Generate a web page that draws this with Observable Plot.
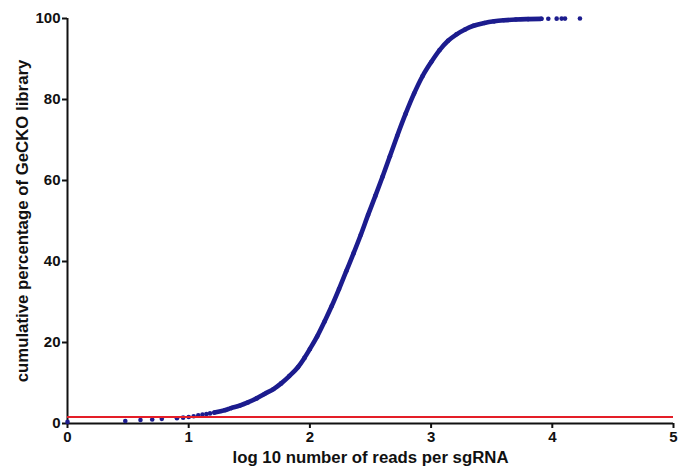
<!DOCTYPE html>
<html>
<head>
<meta charset="utf-8">
<script src="https://cdn.jsdelivr.net/npm/d3@7"></script>
<script src="https://cdn.jsdelivr.net/npm/@observablehq/plot@0.6"></script>
<style>
  html, body { margin: 0; padding: 0; background: #fff; }
  #chart svg { display: block; }
</style>
</head>
<body>
<div id="chart"></div>
<script>
// log10 of reads per sgRNA (x) and cumulative percentage of library (y)
const logReads = [0, 0.477, 0.602, 0.699, 0.778, 0.903, 0.954, 1.0, 1.041, 1.079, 1.114, 1.146, 1.176,
  1.212, 1.30, 1.35, 1.42, 1.488, 1.56, 1.625, 1.70, 1.763, 1.83, 1.901, 1.955, 2.00, 2.06, 2.121, 2.18,
  2.24, 2.30, 2.36, 2.42, 2.48, 2.54, 2.60, 2.66, 2.72, 2.79, 2.86, 2.93, 3.00, 3.07, 3.14, 3.21, 3.28,
  3.35, 3.44, 3.52, 3.60, 3.70, 3.80, 3.91, 3.967, 4.036, 4.077, 4.105, 4.228];
const cumPercent = [0.4, 0.6, 0.85, 1.0, 1.15, 1.3, 1.45, 1.6, 1.8, 2.0, 2.2, 2.35, 2.5,
  2.7, 3.3, 3.8, 4.4, 5.2, 6.2, 7.3, 8.5, 9.9, 11.7, 13.9, 16.2, 18.4, 21.5, 25.2, 29.0,
  33.2, 37.6, 42.0, 46.6, 51.5, 56.2, 61.0, 66.0, 71.0, 76.5, 81.5, 85.8, 89.2, 92.2, 94.5, 96.1, 97.3,
  98.2, 98.9, 99.3, 99.55, 99.75, 99.85, 99.92, 99.95, 99.96, 99.97, 99.98, 100];
// the dense part of the curve (drawn as a thick stroke) lies between these x values
const denseRange = [1.212, 3.91];
const thresholdValue = [1.6];
const xTicks = [0, 1, 2, 3, 4, 5];
const yTicks = [0, 20, 40, 60, 80, 100];
const xTitle = "log 10 number of reads per sgRNA";
const yTitle = "cumulative percentage of GeCKO library";

const data = logReads.map((x, i) => ({x, y: cumPercent[i]}));
const dense = data.filter(d => d.x >= denseRange[0] && d.x <= denseRange[1]);
const blue = "#1c1c8e";

const chart = Plot.plot({
  width: 679,
  height: 472,
  marginLeft: 67,
  marginRight: 6,
  marginTop: 18,
  marginBottom: 49,
  style: {fontFamily: "Liberation Sans, Arial, sans-serif", fontWeight: "bold", fontSize: "15px", color: "#111", background: "#fff"},
  x: {domain: [0, 5]},
  y: {domain: [0, 100]},
  marks: [
    Plot.axisX({ticks: xTicks, tickSize: 5, tickPadding: 3, tickFormat: d3.format("d"), label: null, stroke: "#111", strokeWidth: 2, fontSize: 15}),
    Plot.axisY({ticks: yTicks, tickSize: 5, tickPadding: 2, tickFormat: d3.format("d"), label: null, stroke: "#111", strokeWidth: 2, fontSize: 15}),
    Plot.ruleX([0], {stroke: "#111", strokeWidth: 2}),
    Plot.ruleY([0], {stroke: "#111", strokeWidth: 2}),
    Plot.line(dense, {x: "x", y: "y", stroke: blue, strokeWidth: 4.6, curve: "monotone-x"}),
    Plot.dot(data, {x: "x", y: "y", r: 2.3, fill: blue, stroke: "none"}),
    Plot.ruleY(thresholdValue, {stroke: "#e41e28", strokeWidth: 2}),
    Plot.text([xTitle], {frameAnchor: "bottom", dy: 39, fontSize: 16.8, fontWeight: "bold", fill: "#111", textAnchor: "middle"}),
    Plot.text([yTitle], {frameAnchor: "left", dx: -45, rotate: -90, fontSize: 16.8, fontWeight: "bold", fill: "#111", textAnchor: "middle"})
  ]
});
document.getElementById("chart").appendChild(chart);
</script>
</body>
</html>
